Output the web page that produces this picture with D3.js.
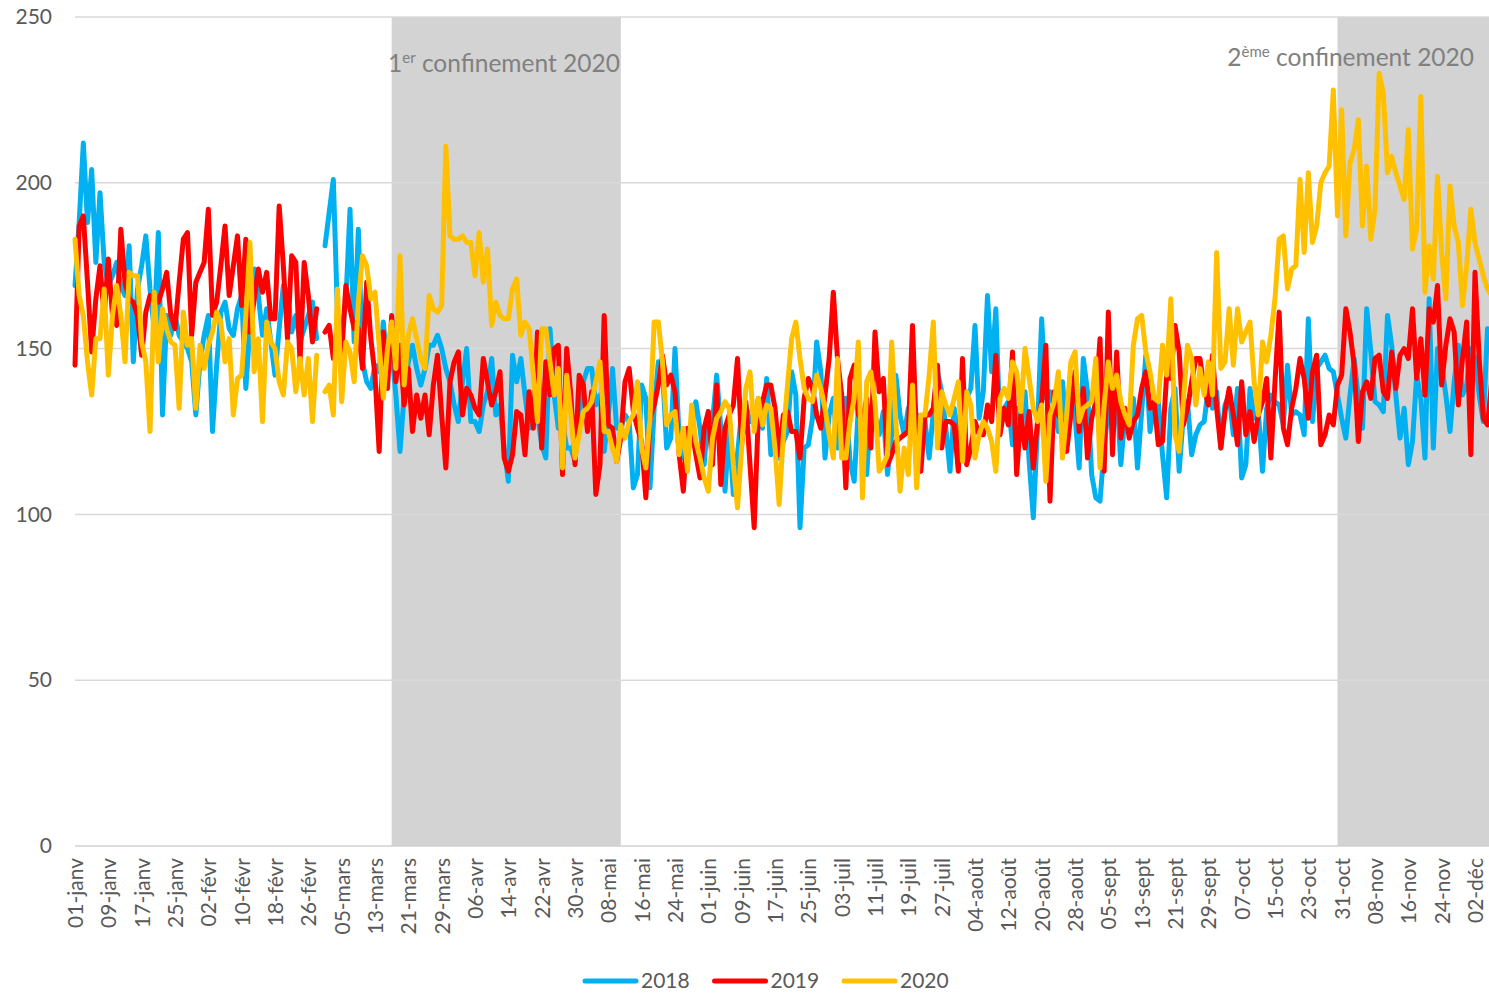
<!DOCTYPE html>
<html lang="fr">
<head>
<meta charset="UTF-8" />
<title>Confinements 2020</title>
<script src="https://cdn.jsdelivr.net/npm/d3@7"></script>
<style>
  body { margin: 0; background: #fff; }
  svg text { font-family: Lato, "Open Sans", sans-serif; fill: #595959; }
</style>
</head>
<body>
<div id="chart"></div>
<script>

// one value per day, 01-janv -> 06-déc (29-févr missing for every year)
var serie2018 = [
  169,188,212,188,204,176,197,176,169,172,176,169,166,181,146,168,175,184,168,156,
  185,130,160,154,160,154,152,150,146,130,146,154,160,125,
  145,161,164,156,154,162,166,138,157,174,166,154,162,152,142,156,169,167,155,160,152,156,160,164,153,
  null,
  181,191,201,160,154,164,192,152,
  186,146,140,138,145,143,158,144,150,136,119,136,146,151,144,139,144,151,151,154,
  150,144,140,133,128,140,150,128,128,125,133,137,147,
  130,133,120,110,148,140,147,136,126,128,130,121,117,156,136,126,128,120,120,116,
  130,140,144,144,133,136,119,130,144,126,126,130,128,108,
  112,139,135,108,132,146,144,120,123,150,123,117,120,126,134,126,115,131,128,142,
  126,107,126,106,118,131,133,128,128,135,126,141,118,125,
  117,122,125,143,136,96,120,121,129,152,143,117,130,135,120,125,135,116,110,132,
  128,112,132,130,124,131,112,124,142,130,124,132,133,
  130,122,128,117,131,143,137,126,113,132,124,125,135,138,157,129,137,166,143,162,
  125,132,134,121,132,128,137,116,99,126,159,135,137,132,
  125,140,124,137,130,114,147,137,112,105,104,120,132,130,138,115,130,129,135,114,
  131,148,125,133,134,118,105,132,138,113,130,134,118,124,
  127,128,138,132,137,120,133,136,124,138,111,115,138,129,131,113,132,136,134,133,
  127,145,130,131,130,124,159,128,144,146,148,144,143,136,
  129,123,136,147,135,126,162,149,134,133,131,160,151,136,123,132,115,122,142,135,
  117,165,120,150,145,136,125,140,151,136,139,150,147,136,128,156,150
];

var serie2019 = [
  145,187,190,170,149,165,175,160,177,160,157,186,170,165,164,160,148,161,166,165,
  164,168,173,160,156,170,183,185,154,170,173,176,192,160,
  164,175,187,166,175,184,163,183,155,165,174,167,173,159,159,193,175,153,178,176,146,176,166,152,162,
  null,
  155,157,147,150,148,169,162,156,
  156,144,170,153,142,119,155,138,160,140,151,133,144,125,136,129,136,124,139,148,
  130,114,140,146,149,130,138,136,132,130,147,140,133,
  137,143,117,113,118,131,130,118,137,126,155,120,146,136,150,151,112,150,136,115,
  142,139,125,137,106,115,160,127,126,116,123,140,144,131,
  126,122,105,129,133,139,148,139,142,137,118,107,126,126,118,111,126,131,115,139,
  109,126,130,133,147,121,134,115,96,130,134,139,139,132,
  118,130,131,125,125,117,135,141,138,130,126,136,147,167,147,136,108,141,145,130,
  128,135,120,155,137,141,115,118,122,123,124,125,157,
  122,113,130,130,132,145,120,128,128,127,113,147,115,120,128,124,124,133,128,148,
  124,132,127,149,112,130,120,131,114,128,134,151,104,137,
  130,128,119,130,143,125,138,117,129,134,153,113,161,118,149,123,132,123,128,130,
  138,143,132,134,121,122,142,141,157,149,127,132,140,147,
  147,138,133,148,132,120,131,138,130,121,140,124,131,122,130,134,141,117,140,161,
  126,121,132,138,147,141,129,143,148,121,124,130,127,139,
  142,162,155,145,122,137,140,135,147,148,137,135,149,138,148,150,147,162,141,153,
  136,162,158,169,139,151,159,155,133,147,158,118,173,147,129,127,140
];

var serie2020 = [
  183,166,160,146,136,153,153,168,142,160,169,160,146,173,172,172,152,146,125,167,
  146,162,156,152,151,132,161,151,153,132,151,144,151,155,
  161,158,146,153,130,141,142,160,182,143,153,128,158,152,150,140,136,152,150,137,147,136,147,128,148,
  null,
  137,139,130,168,134,152,149,140,
  164,178,175,165,167,151,135,150,158,144,178,139,154,159,153,147,144,166,162,161,
  163,211,184,183,183,184,182,182,172,185,170,180,157,
  164,160,159,159,168,171,154,158,156,142,128,156,156,146,136,144,114,142,130,117,
  124,131,132,134,140,146,125,125,120,116,127,123,128,130,
  140,120,114,129,158,158,146,127,130,131,118,126,113,133,122,117,111,107,123,129,
  131,134,132,115,102,120,138,143,125,135,127,133,132,120,
  103,124,139,153,158,147,138,135,134,142,138,132,124,117,147,117,117,128,135,152,
  105,140,143,134,113,115,118,152,128,107,120,112,139,
  108,130,130,142,158,120,137,133,130,135,140,116,137,133,117,124,128,126,122,113,
  135,138,135,146,143,131,150,141,132,128,133,110,130,134,
  143,117,130,146,149,128,132,133,134,147,114,133,146,138,142,134,130,127,151,159,
  160,149,143,135,134,151,142,165,124,119,134,151,147,133,
  144,136,146,136,179,144,146,162,145,162,152,155,158,140,130,152,146,154,165,183,
  184,168,174,175,201,179,203,182,187,200,203,205,228,190,
  222,184,206,210,219,187,205,183,192,233,227,203,208,203,199,195,216,180,186,226,
  167,181,171,202,179,165,199,187,182,163,175,192,182,177,172,168,166
];

// one label every 8 days
var tickLabels = ["01-janv","09-janv","17-janv","25-janv","02-févr","10-févr","18-févr","26-févr",
  "05-mars","13-mars","21-mars","29-mars","06-avr","14-avr","22-avr","30-avr","08-mai","16-mai",
  "24-mai","01-juin","09-juin","17-juin","25-juin","03-juil","11-juil","19-juil","27-juil",
  "04-août","12-août","20-août","28-août","05-sept","13-sept","21-sept","29-sept","07-oct",
  "15-oct","23-oct","31-oct","08-nov","16-nov","24-nov","02-déc"];

var yTicks = [0, 50, 100, 150, 200, 250];

// lockdown periods, as day index (17-mars -> 11-mai, 30-oct -> ...)
var confinements = [
  { debut: 76, fin: 131, sup: "er", label: " confinement 2020" },
  { debut: 303, fin: 345, sup: "ème", label: " confinement 2020" }
];

var series = [
  { name: "2018", values: serie2018, color: "#00b0f0" },
  { name: "2019", values: serie2019, color: "#ff0000" },
  { name: "2020", values: serie2020, color: "#ffc000" }
];

var w = 1489;
var h = 993;

var svg = d3.select("#chart")
  .append("svg")
  .attr("width", w)
  .attr("height", h);

var xScale = d3.scaleLinear()
  .domain([0, 336])
  .range([75, 1475]);

var yScale = d3.scaleLinear()
  .domain([0, 250])
  .range([846, 17]);

var xEnd = xScale(345);

// gray bands
svg.selectAll("rect.band")
  .data(confinements)
  .enter()
  .append("rect")
  .attr("class", "band")
  .attr("x", function(d) { return xScale(d.debut); })
  .attr("y", yScale(250))
  .attr("width", function(d) { return xScale(d.fin) - xScale(d.debut); })
  .attr("height", yScale(0) - yScale(250))
  .attr("fill", "#d3d3d3");

// gridlines
svg.selectAll("line.grid")
  .data(yTicks)
  .enter()
  .append("line")
  .attr("class", "grid")
  .attr("x1", 75)
  .attr("x2", xEnd)
  .attr("y1", function(d) { return yScale(d); })
  .attr("y2", function(d) { return yScale(d); })
  .attr("stroke", function(d) { return d == 0 ? "#d0d0d0" : "#d9d9d9"; })
  .attr("stroke-width", 1.5);

// y labels
var yAxis = d3.axisLeft(yScale)
  .tickValues(yTicks)
  .tickSize(0)
  .tickPadding(23);

svg.append("g")
  .attr("class", "y-axis")
  .attr("transform", "translate(75,0)")
  .call(yAxis)
  .call(function(g) { g.select(".domain").remove(); })
  .selectAll("text")
  .style("font-size", "21px")
  .style("fill", "#595959");

// x labels, rotated
var xAxis = d3.axisBottom(xScale)
  .tickValues(d3.range(tickLabels.length).map(function(i) { return i * 8; }))
  .tickFormat(function(d) { return tickLabels[d / 8]; })
  .tickSize(0);

svg.append("g")
  .attr("class", "x-axis")
  .attr("transform", "translate(0," + yScale(0) + ")")
  .call(xAxis)
  .call(function(g) { g.select(".domain").remove(); })
  .selectAll("text")
  .attr("transform", "rotate(-90)")
  .attr("text-anchor", "end")
  .attr("x", -12)
  .attr("y", 0)
  .attr("dy", "0.35em")
  .style("font-size", "21px")
  .style("fill", "#595959");

// lines
var line = d3.line()
  .defined(function(d) { return d != null; })
  .x(function(d, i) { return xScale(i); })
  .y(function(d) { return yScale(d); });

svg.selectAll("path.serie")
  .data(series)
  .enter()
  .append("path")
  .attr("class", "serie")
  .attr("d", function(d) { return line(d.values); })
  .attr("fill", "none")
  .attr("stroke", function(d) { return d.color; })
  .attr("stroke-width", 5)
  .attr("stroke-linejoin", "round")
  .attr("stroke-linecap", "round");

// lockdown labels
var lab1 = svg.append("text")
  .attr("x", 388)
  .attr("y", 72)
  .style("font-size", "24.5px")
  .style("fill", "#808080");
lab1.append("tspan").text("1");
lab1.append("tspan").text(confinements[0].sup).attr("dy", -9).style("font-size", "15px");
lab1.append("tspan").text(confinements[0].label).attr("dy", 9);

var lab2 = svg.append("text")
  .attr("x", 1474)
  .attr("y", 66)
  .attr("text-anchor", "end")
  .style("font-size", "24.5px")
  .style("fill", "#808080");
lab2.append("tspan").text("2");
lab2.append("tspan").text(confinements[1].sup).attr("dy", -9).style("font-size", "15px");
lab2.append("tspan").text(confinements[1].label).attr("dy", 9);

// legend
var legend = svg.selectAll("g.legend")
  .data(series)
  .enter()
  .append("g")
  .attr("class", "legend")
  .attr("transform", function(d, i) { return "translate(" + (585 + i * 129.5) + ",981)"; });

legend.append("line")
  .attr("x1", 0)
  .attr("x2", 51)
  .attr("stroke", function(d) { return d.color; })
  .attr("stroke-width", 5)
  .attr("stroke-linecap", "round");

legend.append("text")
  .attr("x", 56)
  .attr("dy", "0.35em")
  .text(function(d) { return d.name; })
  .style("font-size", "21px");

</script>
</body>
</html>
